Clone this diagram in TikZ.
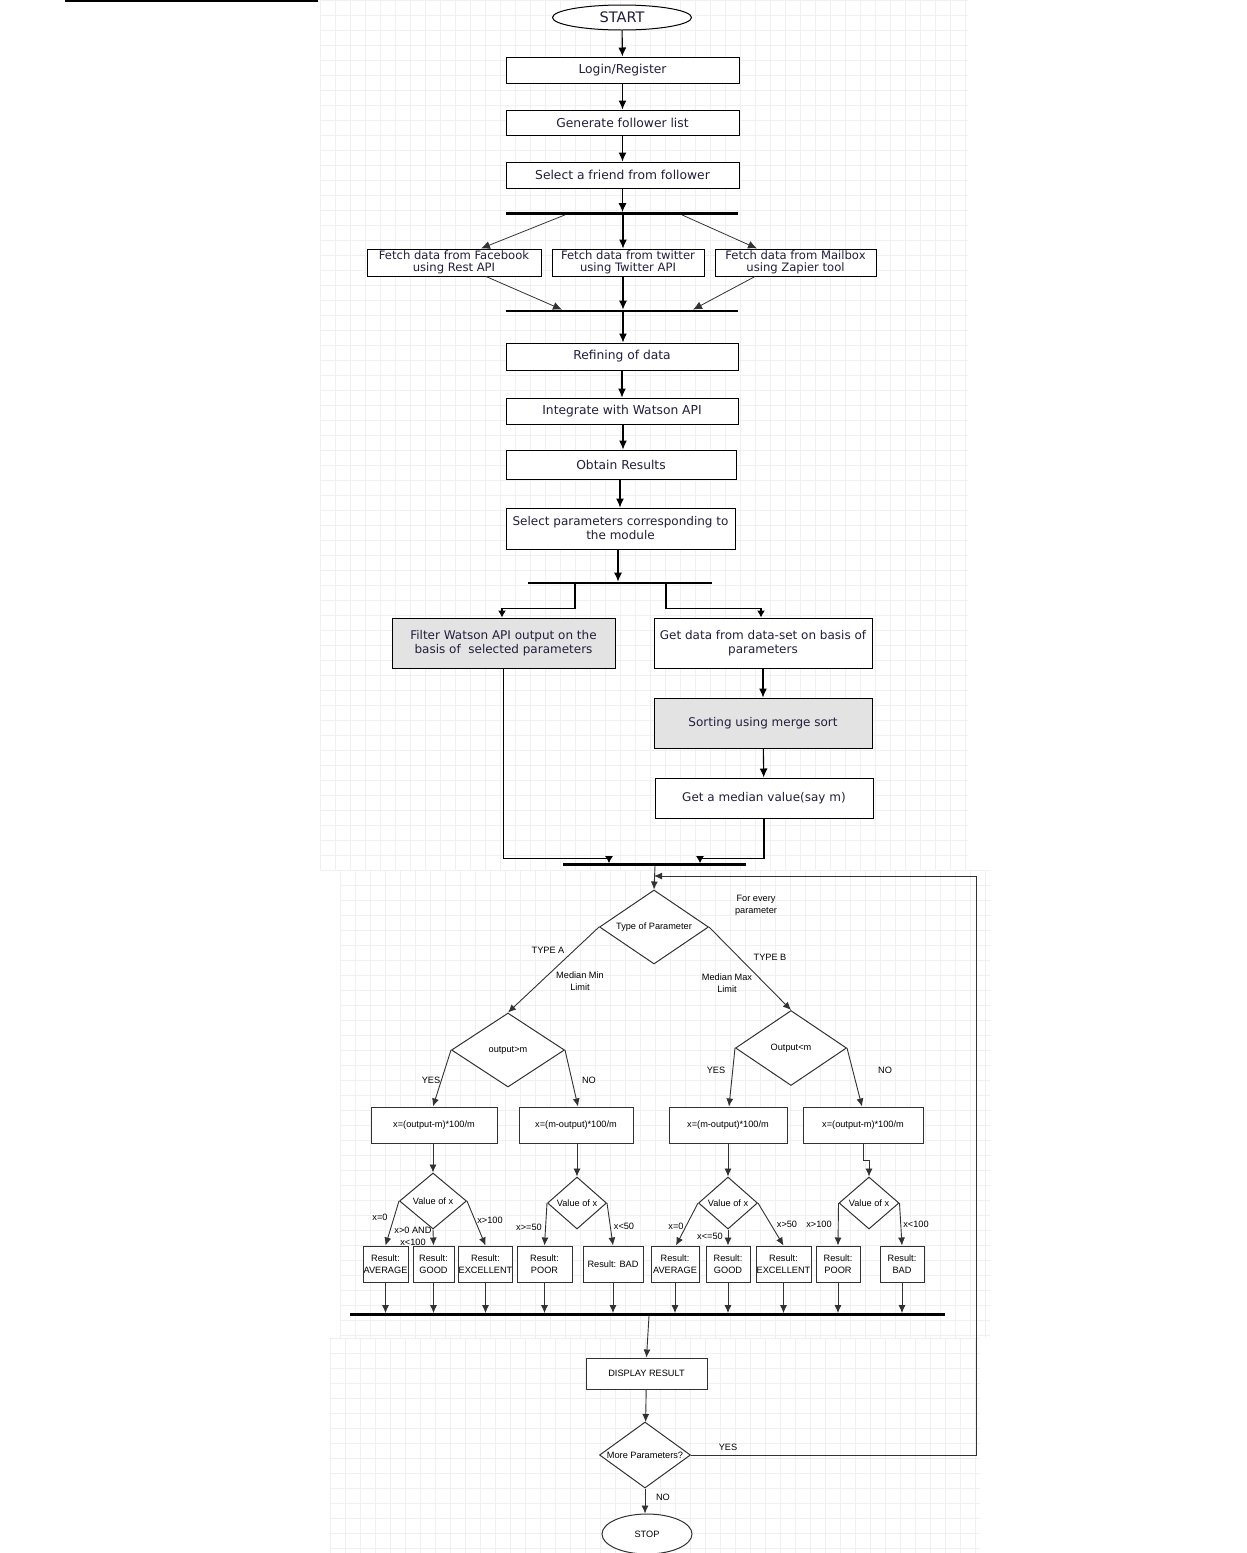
\documentclass[tikz,border=0pt]{standalone}
\usepackage{fontspec}
\setmainfont{DejaVu Sans}
\newfontfamily\lsans{Liberation Sans}
\usetikzlibrary{shapes.geometric,arrows.meta}
\definecolor{txt}{RGB}{35,30,60}
\definecolor{ln}{RGB}{50,50,50}
\definecolor{gridc}{RGB}{240,240,240}
\begin{document}
\begin{tikzpicture}[x=1pt,y=-1pt,
  tbox/.style={draw=black, line width=1pt, fill=white, inner sep=0pt, align=center, text=txt, font=\fontsize{12.3}{14}\selectfont},
  fbox/.style={tbox, font=\fontsize{11.6}{12}\selectfont},
  mbox/.style={tbox, font=\fontsize{12}{14}\selectfont},
  lbox/.style={draw=ln, line width=1pt, fill=white, inner sep=0pt, align=center, text=black, font=\lsans\fontsize{9.2}{12}\selectfont},
  dia/.style={diamond, draw=ln, line width=1pt, fill=white, inner sep=0pt, font=\lsans\fontsize{9.2}{11}\selectfont},
  oval/.style={ellipse, draw=black, line width=1pt, fill=white, inner sep=0pt},
  bar/.style={fill=black, inner sep=0pt, minimum height=2.4pt},
  arr/.style={-{Latex[length=9pt,width=8pt]}, line width=1.1pt, black},
  sarr/.style={-{Latex[length=7pt,width=8pt]}, line width=1.1pt, black},
  darr/.style={-{Latex[length=9pt,width=8pt]}, line width=0.8pt, ln},
  larr/.style={-{Latex[length=8pt,width=7pt]}, line width=0.9pt, ln},
  lab/.style={inner sep=0pt, align=center, text=black, font=\lsans\fontsize{9.2}{12}\selectfont}
]
\useasboundingbox (0,0) rectangle (1247,1553);
\fill[white] (0,0) rectangle (1247,1553);
% faint grid panels
\begin{scope}[gridc, line width=0.5pt]
\foreach \gx in {320,335,...,968} \draw (\gx,0) -- (\gx,450);
\foreach \gy in {0,15,...,450} \draw (320,\gy) -- (968,\gy);
\foreach \gx in {320,335,...,968} \draw (\gx,450) -- (\gx,870);
\foreach \gy in {450,465,...,870} \draw (320,\gy) -- (968,\gy);
\foreach \gx in {340,355,...,990} \draw (\gx,870) -- (\gx,1338);
\foreach \gy in {870,885,...,1338} \draw (340,\gy) -- (990,\gy);
\foreach \gx in {330,345,...,980} \draw (\gx,1338) -- (\gx,1553);
\foreach \gy in {1338,1353,...,1553} \draw (330,\gy) -- (980,\gy);
\end{scope}
\draw[line width=2pt] (65,0.8) -- (318,0.8);

% ---------- upper part ----------
\node[oval, minimum width=139, minimum height=25, text=txt, font=\fontsize{14.5}{16}\selectfont] (start) at (622,17.5) {START};
\node[tbox, minimum width=233, minimum height=26] (login) at (622.5,70) {Login/Register};
\node[tbox, minimum width=233, minimum height=25] (gen) at (622.5,122.5) {Generate follower list};
\node[tbox, minimum width=233, minimum height=26] (sel) at (622.5,175) {Select a friend from follower};
\node[bar, minimum width=232] (bar1) at (622,213.5) {};
\node[fbox, minimum width=174, minimum height=27] (fb) at (454,262.5) {Fetch data from Facebook\\using Rest API};
\node[fbox, minimum width=152, minimum height=27] (tw) at (628,262.5) {Fetch data from twitter\\using Twitter API};
\node[fbox, minimum width=161, minimum height=27] (mb) at (795.5,262.5) {Fetch data from Mailbox\\using Zapier tool};
\node[bar, minimum width=232] (bar2) at (622,311) {};
\node[tbox, minimum width=232, minimum height=27] (ref) at (622,356.5) {Refining of data};
\node[tbox, minimum width=232, minimum height=26] (integ) at (622,411) {Integrate with Watson API};
\node[tbox, minimum width=230, minimum height=29] (obtain) at (621,464.5) {Obtain Results};
\node[mbox, minimum width=229, minimum height=41] (selp) at (620.5,528.5) {Select parameters corresponding to\\the module};
\node[bar, minimum width=184] (bar3) at (620,583) {};
\node[mbox, fill=gray!22, minimum width=223, minimum height=50] (filter) at (503.5,643) {Filter Watson API output on the\\basis of\ \ selected parameters};
\node[mbox, minimum width=218, minimum height=50] (getd) at (763,643) {Get data from data-set on basis of\\parameters};
\node[mbox, fill=gray!22, minimum width=218, minimum height=50] (sort) at (763,723) {Sorting using merge sort};
\node[mbox, minimum width=218, minimum height=40] (median) at (764,798) {Get a median value(say m)};
\node[bar, minimum width=183] (bar4) at (654.5,864.5) {};

\draw[arr] (start) -- (login);
\draw[arr] (login) -- (gen);
\draw[arr] (gen) -- (sel);
\draw[arr] (sel.south) -- (sel.south |- bar1.north);
\draw[darr] ([xshift=-57pt]bar1.south) -- ([xshift=27pt]fb.north);
\draw[arr] ([xshift=1pt]bar1.south) -- ([xshift=1pt]bar1.south |- tw.north);
\draw[darr] ([xshift=60pt]bar1.south) -- ([xshift=-38.5pt]mb.north);
\draw[darr] ([xshift=32pt]fb.south) -- ([xshift=-60pt]bar2.north);
\draw[arr] ([xshift=-5pt]tw.south) -- ([xshift=-5pt]tw.south |- bar2.north);
\draw[darr] ([xshift=-40.5pt]mb.south) -- ([xshift=71pt]bar2.north);
\draw[arr] ([xshift=1pt]bar2.south) -- ([xshift=1pt]bar2.south |- ref.north);
\draw[arr] (ref) -- (integ);
\draw[arr] ([xshift=1pt]integ.south) -- ([xshift=1pt]integ.south |- obtain.north);
\draw[arr] ([xshift=-1pt]obtain.south) -- ([xshift=-1pt]obtain.south |- selp.north);
\draw[arr] ([xshift=-2.5pt]selp.south) -- ([xshift=-2.5pt]selp.south |- bar3.north);
\draw[sarr] ([xshift=-45pt]bar3.south) -- ++(0,24) -| ([xshift=-1.5pt]filter.north);
\draw[sarr] ([xshift=46pt]bar3.south) -- ++(0,24) -| ([xshift=-2pt]getd.north);
\draw[arr] (getd) -- (sort);
\draw[arr] (sort) -- (median);
\draw[sarr] (filter.south) -- ++(0,190) -| ([xshift=-45.5pt]bar4.north);
\draw[sarr] (median.south) -- ++(0,40) -| ([xshift=45.5pt]bar4.north);

% ---------- lower part ----------
\node[dia, minimum width=109, minimum height=74] (type) at (654,927) {\makebox[0pt]{Type of Parameter}};
\node[dia, minimum width=113, minimum height=74] (om) at (508,1050) {\makebox[0pt]{output>m}};
\node[dia, minimum width=111, minimum height=75] (oln) at (791,1048) {\makebox[0pt]{Output<m}};
\node[lbox, minimum width=126, minimum height=36] (f1) at (434,1125) {x=(output-m)*100/m};
\node[lbox, minimum width=114, minimum height=36] (f2) at (576,1125) {x=(m-output)*100/m};
\node[lbox, minimum width=118, minimum height=36] (f3) at (728,1125) {x=(m-output)*100/m};
\node[lbox, minimum width=120, minimum height=36] (f4) at (863,1125) {x=(output-m)*100/m};
\node[dia, minimum width=67, minimum height=56] (d1) at (433,1201) {\makebox[0pt]{Value of x}};
\node[dia, minimum width=59, minimum height=52] (d2) at (577,1203) {\makebox[0pt]{Value of x}};
\node[dia, minimum width=59, minimum height=52] (d3) at (728,1203) {\makebox[0pt]{Value of x}};
\node[dia, minimum width=60, minimum height=52] (d4) at (869,1203) {\makebox[0pt]{Value of x}};
\node[lbox, minimum width=45, minimum height=36] (r1) at (385.5,1264) {Result:\\AVERAGE};
\node[lbox, minimum width=41, minimum height=36] (r2) at (433.5,1264) {Result:\\GOOD};
\node[lbox, minimum width=53, minimum height=36] (r3) at (485.5,1264) {Result:\\EXCELLENT};
\node[lbox, minimum width=55, minimum height=36] (r4) at (544.5,1264) {Result:\\POOR};
\node[lbox, minimum width=60, minimum height=36] (r5) at (613,1264) {Result: BAD};
\node[lbox, minimum width=48, minimum height=36] (r6) at (675,1264) {Result:\\AVERAGE};
\node[lbox, minimum width=44, minimum height=36] (r7) at (728,1264) {Result:\\GOOD};
\node[lbox, minimum width=55, minimum height=36] (r8) at (783.5,1264) {Result:\\EXCELLENT};
\node[lbox, minimum width=44, minimum height=36] (r9) at (838,1264) {Result:\\POOR};
\node[lbox, minimum width=44, minimum height=36] (r10) at (902,1264) {Result:\\BAD};
\node[bar, minimum width=595] (bar5) at (647.5,1314.5) {};
\node[lbox, minimum width=121, minimum height=31] (display) at (646.5,1373.5) {DISPLAY RESULT};
\node[dia, minimum width=91, minimum height=66] (more) at (645,1455) {\makebox[0pt]{More Parameters?}};
\node[oval, draw=ln, minimum width=90, minimum height=40, font=\lsans\fontsize{9.2}{11}\selectfont] (stop) at (647,1534) {STOP};

% labels
\node[lab] (lfor) at (756,905) {For every\\parameter};
\node[lab] (lta) at (548,950) {TYPE A};
\node[lab] (lmin) at (580,981) {Median Min\\Limit};
\node[lab] (ltb) at (770,957) {TYPE B};
\node[lab] (lmax) at (727,983) {Median Max\\Limit};
\node[lab] (ly1) at (431,1080) {YES};
\node[lab] (ln1) at (589,1080) {NO};
\node[lab] (ly2) at (716,1070) {YES};
\node[lab] (ln2) at (885,1070) {NO};
\node[lab] (la1) at (380,1217) {x=0};
\node[lab] (la2) at (413,1236) {x>0 AND\\x<100};
\node[lab] (la3) at (490,1220) {x>100};
\node[lab] (la4) at (529,1227) {x>=50};
\node[lab] (la5) at (624,1226) {x<50};
\node[lab] (la6) at (676,1226) {x=0};
\node[lab] (la7) at (710,1236) {x<=50};
\node[lab] (la8) at (787,1224) {x>50};
\node[lab] (la9) at (819,1224) {x>100};
\node[lab] (la10) at (916,1224) {x<100};
\node[lab] (ly3) at (728,1447) {YES};
\node[lab] (ln3) at (663,1497) {NO};

% lower connectors
\draw[larr] ([xshift=0.5pt]bar4.south) -- (type.north);
\draw[larr] (type.west) -- (om.north);
\draw[larr] (type.east) -- (oln.north);
\draw[larr] (om.west) -- ([xshift=-1pt]f1.north);
\draw[larr] (om.east) -- ([xshift=2pt]f2.north);
\draw[larr] (oln.west) -- ([xshift=1pt]f3.north);
\draw[larr] (oln.east) -- ([xshift=-1pt]f4.north);
\draw[larr] ([xshift=-1pt]f1.south) -- (d1.north);
\draw[larr] ([xshift=1pt]f2.south) -- (d2.north);
\draw[larr] (f3.south) -- (d3.north);
\draw[larr] (f4.south) -- ++(0,17) -| (d4.north);
\draw[larr] (d1.west) -- (r1.north);
\draw[larr] (d1.south) -- (r2.north);
\draw[larr] (d1.east) -- (r3.north);
\draw[larr] (d2.west) -- (r4.north);
\draw[larr] (d2.east) -- (r5.north);
\draw[larr] (d3.west) -- ([xshift=1pt]r6.north);
\draw[larr] (d3.south) -- (r7.north);
\draw[larr] (d3.east) -- (r8.north);
\draw[larr] (d4.west) -- (r9.north);
\draw[larr] (d4.east) -- (r10.north);
\foreach \r in {r1,r2,r3,r4,r5,r6,r7,r8,r9,r10}
  \draw[larr] (\r.south) -- (\r.south |- bar5.north);
\draw[larr] ([xshift=1.5pt]bar5.south) -- (display.north);
\draw[larr] (display) -- (more);
\draw[larr] (more.south) -- (more.south |- stop.north);
\coordinate (lp) at (976,876);
\draw[larr] (more.east) -| (lp) -- (lp -| type.north);
\end{tikzpicture}
\end{document}
